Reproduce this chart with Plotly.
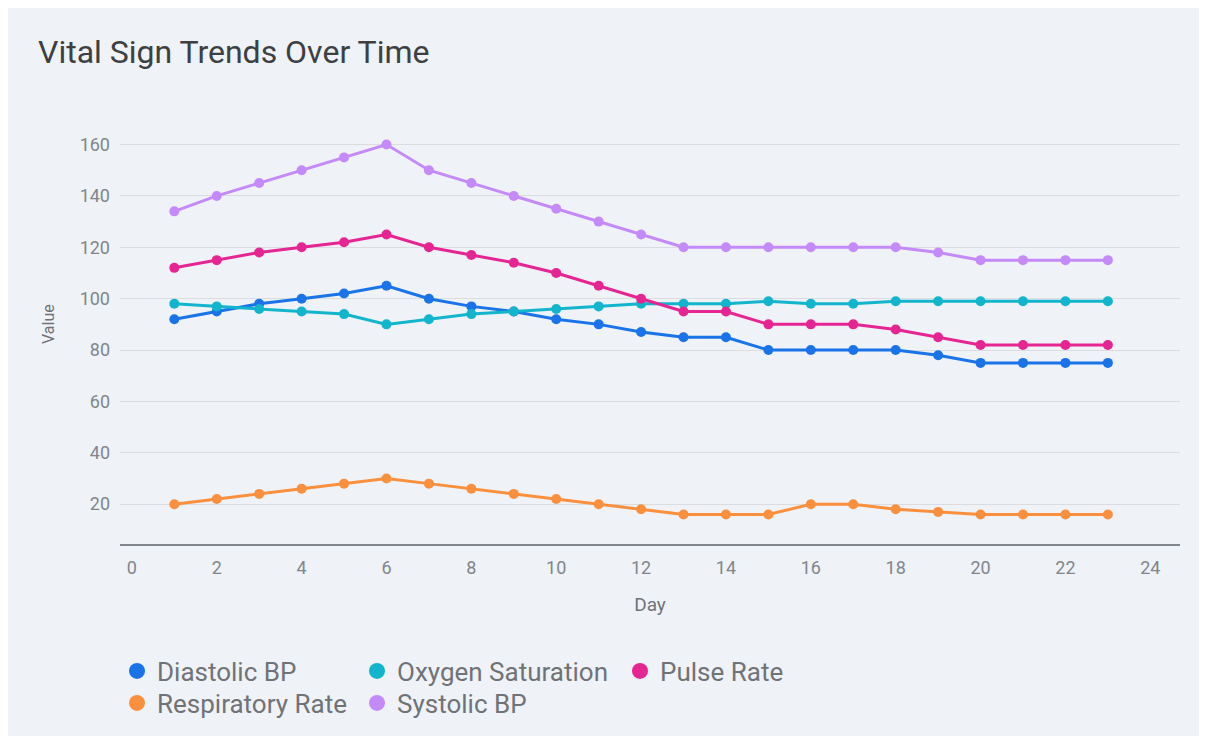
import plotly.graph_objects as go

days = list(range(1, 24))
diastolic_bp = [92, 95, 98, 100, 102, 105, 100, 97, 95, 92, 90, 87, 85, 85, 80, 80, 80, 80, 78, 75, 75, 75, 75]
oxygen_saturation = [98, 97, 96, 95, 94, 90, 92, 94, 95, 96, 97, 98, 98, 98, 99, 98, 98, 99, 99, 99, 99, 99, 99]
pulse_rate = [112, 115, 118, 120, 122, 125, 120, 117, 114, 110, 105, 100, 95, 95, 90, 90, 90, 88, 85, 82, 82, 82, 82]
respiratory_rate = [20, 22, 24, 26, 28, 30, 28, 26, 24, 22, 20, 18, 16, 16, 16, 20, 20, 18, 17, 16, 16, 16, 16]
systolic_bp = [134, 140, 145, 150, 155, 160, 150, 145, 140, 135, 130, 125, 120, 120, 120, 120, 120, 120, 118, 115, 115, 115, 115]

series_names = ["Diastolic BP", "Oxygen Saturation", "Pulse Rate", "Respiratory Rate", "Systolic BP"]
series_values = [diastolic_bp, oxygen_saturation, pulse_rate, respiratory_rate, systolic_bp]
series_colors = ["#1a73e8", "#12b5cb", "#e52592", "#fa903e", "#c58af9"]

x_ticks = list(range(0, 25, 2))
y_ticks = list(range(20, 161, 20))

BG = "#eff2f7"
FONT = "Roboto"
W, H = 1191, 728

# legend entry anchor positions (figure pixels): (left x, center y)
legend_pos = [(109, 663), (349, 663), (612, 663), (109, 695), (349, 695)]
legend_ids = ["legend", "legend2", "legend3", "legend4", "legend5"]

fig = go.Figure()

for name, vals, col in zip(series_names, series_values, series_colors):
    fig.add_trace(go.Scatter(
        x=days, y=vals, name=name, mode="lines+markers",
        line=dict(color=col, width=3),
        marker=dict(color=col, size=10),
        showlegend=False,
        hovertemplate="Day %{x}<br>" + name + ": %{y}<extra></extra>",
    ))

for name, col, lg in zip(series_names, series_colors, legend_ids):
    fig.add_trace(go.Scatter(
        x=[None], y=[None], name=name, mode="markers",
        marker=dict(color=col, size=16),
        showlegend=True, legend=lg,
    ))

def legend_at(pos):
    xpx, ypx = pos
    return dict(
        orientation="v", xref="container", x=xpx / W, xanchor="left",
        yref="container", y=1 - ypx / H, yanchor="middle",
        font=dict(family=FONT, size=26, color="#6f7377"),
        bgcolor="rgba(0,0,0,0)",
        itemclick=False, itemdoubleclick=False,
    )

layout_legends = {lid: legend_at(p) for lid, p in zip(legend_ids, legend_pos)}

fig.update_layout(
    width=W, height=H,
    margin=dict(l=112, r=19, t=116, b=192, autoexpand=False),
    paper_bgcolor=BG,
    plot_bgcolor=BG,
    font=dict(family=FONT, color="#6f7377"),
    title=dict(
        text="Vital Sign Trends Over Time",
        x=30 / W, xanchor="left", xref="container",
        y=1 - 44 / H, yanchor="middle", yref="container",
        font=dict(family=FONT, size=32, color="#3c4043"),
    ),
    annotations=[dict(
        text="Value", textangle=-90, showarrow=False,
        xref="paper", yref="paper",
        x=(40 - 112) / (W - 112 - 19), y=(536 - 316) / (728 - 116 - 192),
        xanchor="center", yanchor="middle",
        font=dict(family=FONT, size=16, color="#6f7377"),
    )],
    **layout_legends,
)

fig.update_xaxes(
    range=[-0.28, 24.7],
    tickvals=x_ticks, ticktext=[str(v) for v in x_ticks],
    showgrid=False, zeroline=False,
    showline=True, linecolor="#80868b", linewidth=2,
    ticks="", ticklabelstandoff=6,
    tickfont=dict(family=FONT, size=18, color="#80868b"),
    title=dict(text="Day", standoff=21, font=dict(family=FONT, size=19, color="#6f7377")),
)
fig.update_yaxes(
    range=[4.5, 168],
    tickvals=y_ticks, ticktext=[str(v) for v in y_ticks],
    showgrid=True, gridcolor="#dadce0", gridwidth=1,
    zeroline=False, showline=False,
    ticks="", ticklabelstandoff=9,
    tickfont=dict(family=FONT, size=18, color="#80868b"),
)

fig.write_html("out.html")
